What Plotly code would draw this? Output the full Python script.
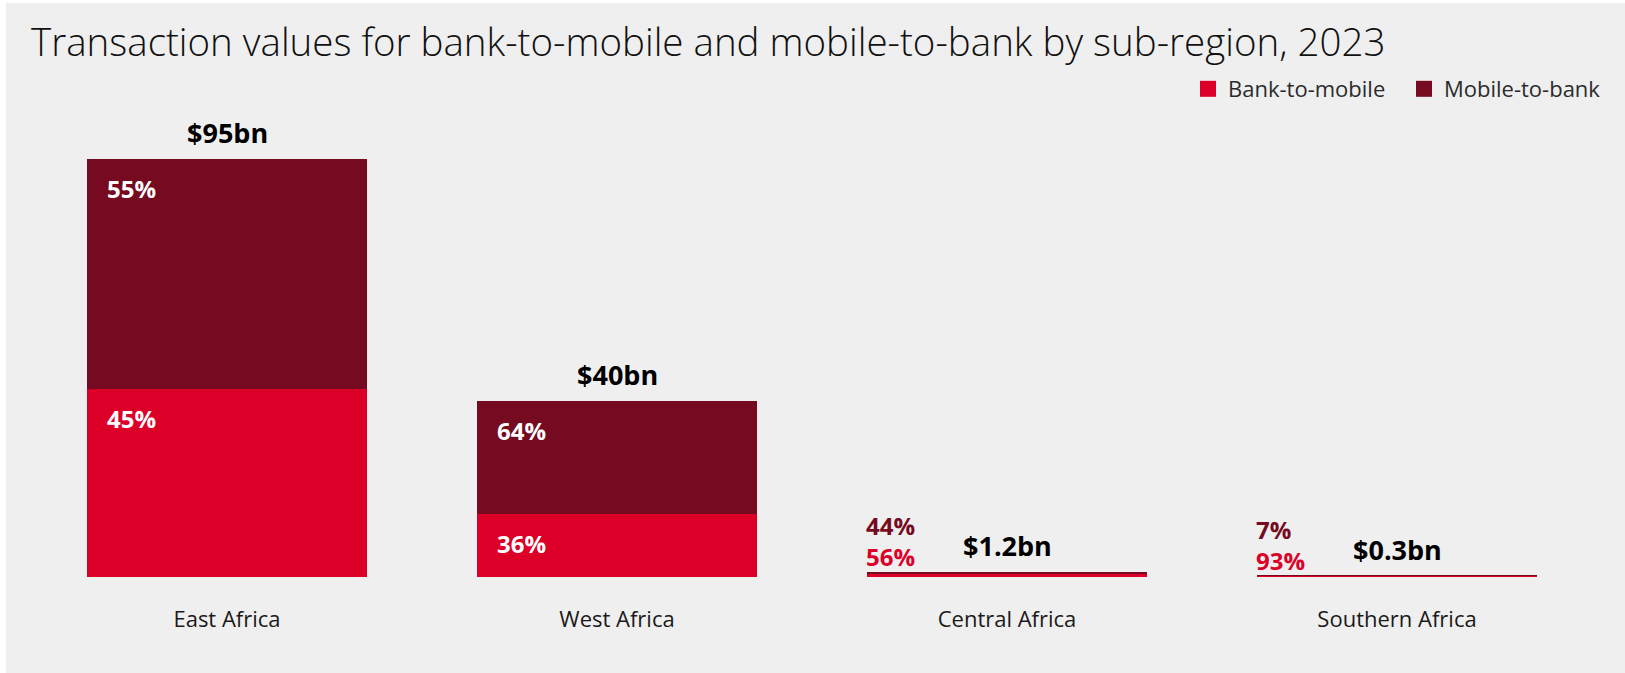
import plotly.graph_objects as go

# Sub-regions and their 2023 totals (US$ bn)
regions = ["East Africa", "West Africa", "Central Africa", "Southern Africa"]
totals_bn = [95, 40, 1.2, 0.3]
# Share of each total by direction (%)
bank_to_mobile_pct = [45, 36, 56, 93]
mobile_to_bank_pct = [55, 64, 44, 7]

bank_to_mobile_bn = [t * p / 100 for t, p in zip(totals_bn, bank_to_mobile_pct)]
mobile_to_bank_bn = [t * p / 100 for t, p in zip(totals_bn, mobile_to_bank_pct)]

RED = "#DC0029"
MAROON = "#750A21"
PANEL = "#EFEFEF"
FONT = "Open Sans"

W, H = 1625, 673
ML, MR, MT, MB = 32, 33, 100, 96
PW, PH = W - ML - MR, H - MT - MB
BARGAP = 0.28
HALF_BAR = PW / len(regions) * (1 - BARGAP) / 2
SMALL = 5  # totals below this get their shares written above the bar

fig = go.Figure()
fig.add_bar(x=regions, y=bank_to_mobile_bn, name="Bank-to-mobile",
            marker=dict(color=RED, line=dict(width=0)), showlegend=False,
            legendgroup="b2m", hoverinfo="skip")
fig.add_bar(x=regions, y=mobile_to_bank_bn, name="Mobile-to-bank",
            marker=dict(color=MAROON, line=dict(width=0)), showlegend=False,
            legendgroup="m2b", hoverinfo="skip")

# legend entries with larger square swatches
for name, col, grp in [("Bank-to-mobile", RED, "b2m"), ("Mobile-to-bank", MAROON, "m2b")]:
    fig.add_scatter(x=[None], y=[None], mode="markers", name=name, legendgroup=grp,
                    marker=dict(symbol="square", size=16, color=col))

annotations = []
for reg, tot, b, m, bp, mp in zip(regions, totals_bn, bank_to_mobile_bn,
                                  mobile_to_bank_bn, bank_to_mobile_pct, mobile_to_bank_pct):
    annotations.append(dict(x=reg, y=tot, xref="x", yref="y", text=f"${tot:g}bn",
                            showarrow=False, yanchor="bottom", yshift=6,
                            font=dict(family=FONT, size=27, color="#000000", weight="bold")))
    if tot >= SMALL:
        for top, pct in [(b, bp), (b + m, mp)]:
            annotations.append(dict(x=reg, y=top, xref="x", yref="y", text=f"{pct}%",
                                    showarrow=False, xanchor="left", yanchor="top",
                                    xshift=-HALF_BAR + 18, yshift=-11,
                                    font=dict(family=FONT, size=24, color="white", weight="bold")))
    else:
        # shares stacked above a bar too thin to hold them
        stacked = (f"<span style='color:{MAROON}'>{mp}%</span><br>"
                   f"<span style='color:{RED}'>{bp}%</span>")
        annotations.append(dict(x=reg, y=tot, xref="x", yref="y", text=stacked,
                                showarrow=False, xanchor="left", yanchor="bottom", align="left",
                                xshift=-HALF_BAR - 2, yshift=-2, borderpad=0,
                                font=dict(family=FONT, size=24, color=RED, weight="bold")))

# white page edge around the grey panel
px = lambda p: (p - ML) / PW
py = lambda p: 1 - (p - MT) / PH
shapes = [
    dict(type="rect", xref="paper", yref="paper", x0=px(0), x1=px(6), y0=py(H), y1=py(0),
         fillcolor="white", line=dict(width=0), layer="below"),
    dict(type="rect", xref="paper", yref="paper", x0=px(0), x1=px(W), y0=py(3), y1=py(0),
         fillcolor="white", line=dict(width=0), layer="below"),
]

fig.update_layout(
    width=W, height=H,
    margin=dict(l=ML, r=MR, t=MT, b=MB, autoexpand=False),
    paper_bgcolor=PANEL, plot_bgcolor=PANEL,
    barmode="stack", bargap=BARGAP,
    title=dict(text="Transaction values for bank-to-mobile and mobile-to-bank by sub-region, 2023",
               xref="container", yref="container", x=31 / W, xanchor="left",
               y=1 - 43 / H, yanchor="middle",
               font=dict(family=FONT, size=38.5, color="#111111", weight=300)),
    legend=dict(orientation="h", xref="container", yref="container",
                x=1 - 5 / W, xanchor="right", y=1 - 89 / H, yanchor="middle",
                entrywidth=171,
                font=dict(family=FONT, size=22, color="#2B2B2B"),
                bgcolor="rgba(0,0,0,0)", itemclick=False, itemdoubleclick=False),
    xaxis=dict(showgrid=False, zeroline=False, showline=False, ticks="",
               ticklabelstandoff=27,
               tickfont=dict(family=FONT, size=22, color="#1A1A1A")),
    yaxis=dict(range=[0, PH / (418.0 / 95)], visible=False, showgrid=False, zeroline=False),
    annotations=annotations,
    shapes=shapes,
    showlegend=True,
)

fig.write_html("out.html")
